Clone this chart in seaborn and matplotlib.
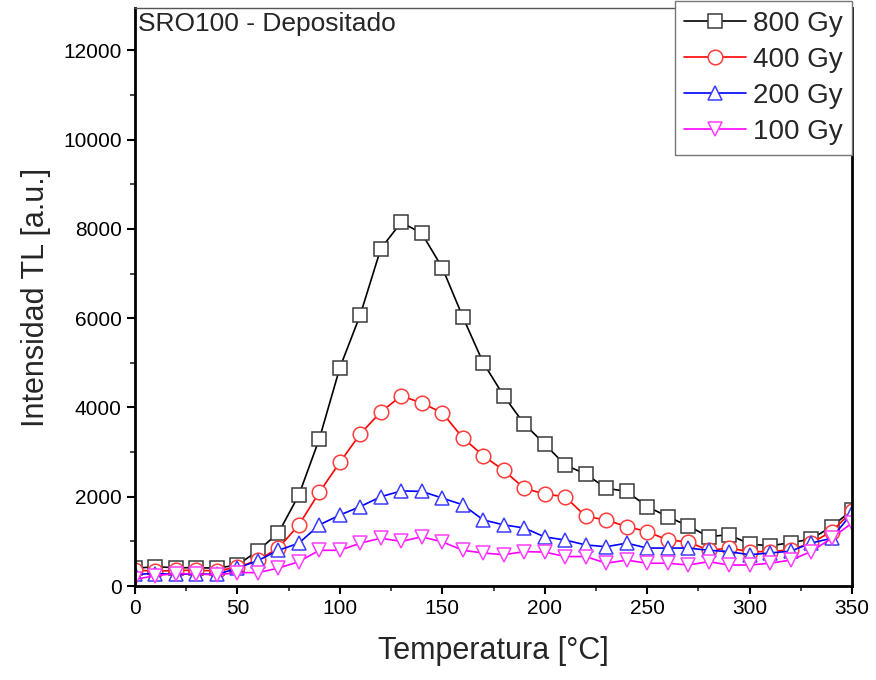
import matplotlib
matplotlib.use("Agg")
import matplotlib.pyplot as plt
import seaborn as sns
import numpy as np
from matplotlib.ticker import MultipleLocator

temperature = list(range(0, 351, 10))

gy800 = [400, 430, 410, 410, 400, 470, 790, 1190, 2040, 3300, 4890, 6080, 7560, 8150,
         7900, 7130, 6030, 5000, 4260, 3630, 3180, 2710, 2510, 2190, 2120, 1780, 1555,
         1345, 1105, 1150, 940, 900, 970, 1050, 1330, 1700]
gy400 = [360, 330, 350, 350, 340, 420, 580, 850, 1370, 2100, 2770, 3410, 3900, 4260,
         4100, 3880, 3320, 2920, 2590, 2190, 2060, 2000, 1560, 1480, 1330, 1220, 1030,
         990, 800, 850, 770, 770, 810, 960, 1220, 1670]
gy200 = [260, 280, 260, 270, 260, 400, 570, 800, 960, 1370, 1590, 1780, 2000, 2130,
         2120, 1970, 1820, 1480, 1370, 1300, 1100, 1030, 920, 880, 960, 850, 850, 850,
         800, 770, 700, 740, 780, 960, 1070, 1630]
gy100 = [150, 230, 280, 270, 250, 300, 300, 400, 545, 800, 800, 960, 1070, 1000, 1100,
         990, 800, 740, 700, 770, 760, 660, 660, 510, 580, 510, 510, 470, 545, 470, 470,
         510, 580, 770, 1070, 1410]

series = [
    ("800 Gy", gy800, "#000000", "#3a3a3a", "s"),
    ("400 Gy", gy400, "#ff0000", "#ff3c3c", "o"),
    ("200 Gy", gy200, "#0000ff", "#3c3cff", "^"),
    ("100 Gy", gy100, "#ff00ff", "#ff3cff", "v"),
]

sns.set_style("ticks")
plt.rcParams["font.family"] = ["Liberation Sans", "DejaVu Sans"]

fig = plt.figure(figsize=(8.76, 6.8), dpi=100)
ax = fig.add_axes([135 / 876, 1 - 586 / 680, (852 - 135) / 876, (586 - 8) / 680])

for label, vals, lc, mc, mk in series:
    sns.lineplot(x=temperature, y=vals, ax=ax, color=lc, linewidth=1.2,
                 marker=mk, markersize=10.5, markerfacecolor="white",
                 markeredgecolor=mc, markeredgewidth=1.1, label=label)

ax.set_xlim(0, 350)
ax.set_ylim(0, 12950)
ax.xaxis.set_major_locator(MultipleLocator(50))
ax.xaxis.set_minor_locator(MultipleLocator(25))
ax.yaxis.set_major_locator(MultipleLocator(2000))
ax.yaxis.set_minor_locator(MultipleLocator(1000))
ax.tick_params(axis="both", which="major", direction="out", length=6, width=1.5,
               labelsize=15, colors="black")
ax.tick_params(axis="both", which="minor", direction="out", length=3.5, width=1.2)
ax.tick_params(top=False, right=False, which="both")

for side in ["left", "bottom", "right"]:
    ax.spines[side].set_linewidth(2.0)
    ax.spines[side].set_color("black")
ax.spines["top"].set_linewidth(1.0)
ax.spines["top"].set_color("#555555")

ax.set_xlabel("Temperatura [°C]", fontsize=22, labelpad=13)
ax.set_ylabel("Intensidad TL [a.u.]", fontsize=22, labelpad=9)

ax.text(0.004, 0.993, "SRO100 - Depositado", transform=ax.transAxes,
        ha="left", va="top", fontsize=19)

leg = ax.legend(loc="upper right", bbox_to_anchor=(1.0, 1.012), fontsize=20,
                frameon=True, fancybox=False, framealpha=1, edgecolor="#777777",
                borderaxespad=0, handlelength=2.2, handletextpad=0.25,
                labelspacing=0.36, borderpad=0.35)
leg.get_frame().set_linewidth(1.0)

fig.savefig("out.png", dpi=100)
